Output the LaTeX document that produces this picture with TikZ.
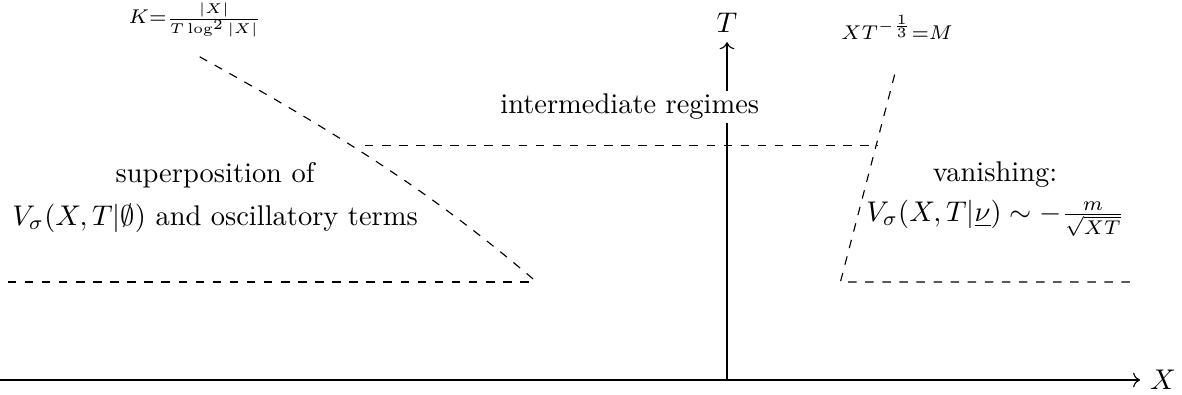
\documentclass[tikz,border=0pt]{standalone}
\usepackage{amsmath,amssymb}
\usetikzlibrary{positioning,arrows.meta}

\begin{document}
\begin{tikzpicture}[bound/.style={dashed},regime/.style={align=center}]
        \useasboundingbox (-8.975,-0.173) rectangle (5.617,4.691);
        % axes
        \coordinate (o) at (0,0);
        \coordinate (xend) at (5.1,0);
        \coordinate (tend) at (0,4.17);
        \draw[->] (-8.98,0) -- (xend) node[right] (xl) {$X$};
        \draw[->] (o) -- (tend) node[above] (tl) {$T$};
        % boundary points
        \coordinate (ka) at (-6.51,3.99);
        \coordinate (kb) at (-2.35,1.21);
        \coordinate (ll) at (-8.88,1.21);
        \coordinate (ma) at (-4.47,2.89);
        \coordinate (mb) at (1.86,2.89);
        \coordinate (ra) at (2.07,3.77);
        \coordinate (rb) at (1.40,1.21);
        \coordinate (rr) at (5.04,1.21);
        \draw[bound] (ka) .. controls (-4.65,2.96) and (-3.58,2.26) .. (kb);
        \draw[bound] (ll) -- (kb);
        \draw[bound] (ma) -- (mb);
        \draw[bound] (ra) -- (rb) -- (rr);
        % labels
        \node (klabel) at (-6.57,4.44) {$\scriptstyle K=\frac{|X|}{T\log^2|X|}$};
        \node (mlabel) at (2.10,4.35) {$\scriptstyle XT^{-\frac{1}{3}}=M$};
        \node[fill=white,inner sep=1pt] (mid) at (-1.20,3.37) {intermediate regimes};
        \node[regime] (left) at (-6.32,2.25) {superposition of\\[3pt]$V_\sigma(X,T|\emptyset)$ and oscillatory terms};
        \node[regime] (right) at (3.31,2.23) {vanishing:\\[2pt]$V_\sigma(X,T|\underline{\nu})\sim-\frac{m}{\sqrt{XT}}$};
      \end{tikzpicture}
\end{document}
